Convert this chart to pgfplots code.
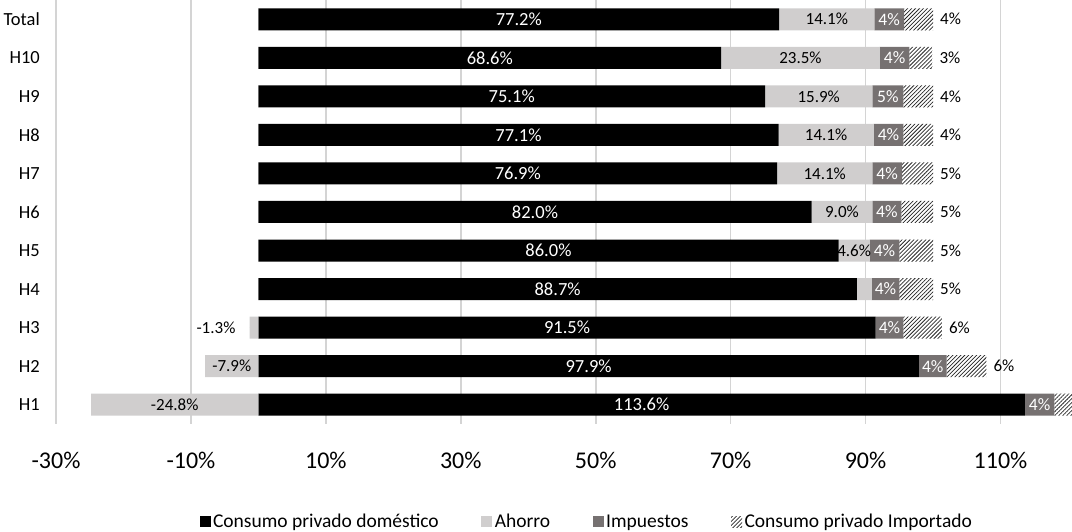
\documentclass[border=0pt]{standalone}
\usepackage{fontspec}
\setmainfont{Carlito}
\usepackage{pgfplots}
\pgfplotsset{compat=1.18}
\usepackage{pgfplotstable}
\usetikzlibrary{patterns.meta}
\definecolor{ahorro}{HTML}{D0CECE}
\definecolor{impuesto}{HTML}{767171}
\definecolor{gridc}{HTML}{D4D4D4}

\pgfplotstableread{
y blk ahp ahn imp imq
0 113.6 0 -24.8 4.4 6.8
1 97.9 0 -7.9 4.1 5.9
2 91.5 0 -1.3 4.1 5.7
3 88.7 2.2 0 4.1 5.0
4 86.0 4.6 0 4.4 5.0
5 82.0 9.0 0 4.3 4.7
6 76.9 14.1 0 4.4 4.6
7 77.1 14.1 0 4.4 4.4
8 75.1 15.9 0 4.6 4.4
9 68.6 23.5 0 4.4 3.4
10 77.2 14.1 0 4.4 4.3
}\data

\pgfplotsset{
  common/.style={width=1016pt,height=424pt,scale only axis,
    xmin=-30,xmax=120.6,ymin=-0.5,ymax=10.5,at={(0pt,0pt)},anchor=south west},
  lbl/.style={only marks, mark=*, mark size=0pt, mark options={draw=none,fill=none},
    point meta=explicit, nodes near coords,
    every node near coord/.append style={anchor=center, inner sep=0pt}},
  fmtA/.style={nodes near coords={\pgfmathprintnumber[fixed,fixed zerofill,precision=1,assume math mode=true]{\pgfplotspointmeta}\%}},
  fmtB/.style={nodes near coords={\pgfmathprintnumber[fixed,precision=0,assume math mode=true]{\pgfplotspointmeta}\%}},
}

\begin{document}
\begin{tikzpicture}
\begin{axis}[common, xbar stacked, bar width=22pt,
  axis line style={draw=none}, tick style={draw=none},
  xtick={-30,-10,...,110},
  xticklabels={-30\%,-10\%,10\%,30\%,50\%,70\%,90\%,110\%},
  xmajorgrids, major grid style={draw=gridc,line width=1.6pt},
  ytick={0,...,10}, yticklabels={H1,H2,H3,H4,H5,H6,H7,H8,H9,H10,Total},
  xticklabel style={font=\fontsize{24}{28}\selectfont, inner sep=0pt, anchor=north, yshift=-27.5pt},
  yticklabel style={font=\fontsize{18.5}{22}\selectfont, inner sep=0pt, anchor=east, xshift=-16pt},
  legend style={draw=none, fill=none, at={(0.5226,-0.231)}, anchor=center,
    font=\fontsize{19.5}{23}\selectfont, inner sep=0pt,
    nodes={inner xsep=2.5pt, inner ysep=0pt},
    /tikz/every even column/.append style={column sep=40pt}},
  legend columns=4, legend cell align=left,
  legend image code/.code={\path[#1] (-3pt,-5.5pt) rectangle (8pt,5.5pt);},
]
\addplot[fill=black, draw=none] table[x=blk,y=y]{\data};
\addlegendentry{Consumo privado doméstico}
\addplot[fill=ahorro, draw=none] table[x=ahp,y=y]{\data};
\addlegendentry{Ahorro}
\addplot[fill=impuesto, draw=none] table[x=imp,y=y]{\data};
\addlegendentry{Impuestos}
\addplot[pattern={Lines[angle=45,distance=2.8pt,line width=0.75pt]}, pattern color=black!85, draw=none] table[x=imq,y=y]{\data};
\addlegendentry{Consumo privado Importado}
\end{axis}

\begin{axis}[common, hide axis]
\addplot[xbar, bar width=22pt, bar shift=0pt, fill=ahorro, draw=none] table[x=ahn,y=y]{\data};
% labels inside black segments
\addplot[lbl, fmtA, every node near coord/.append style={text=white, font=\fontsize{18.5}{22}\selectfont}]
  table[x expr=\thisrow{blk}/2, y=y, meta=blk]{\data};
% positive ahorro labels
\addplot[lbl, fmtA, skip coords between index={0}{4}, every node near coord/.append style={text=black, font=\fontsize{17}{20}\selectfont}]
  table[x expr=\thisrow{blk}+\thisrow{ahp}/2, y=y, meta=ahp]{\data};
% impuestos labels
\addplot[lbl, fmtB, every node near coord/.append style={text=white, font=\fontsize{17.5}{20}\selectfont}]
  table[x expr=\thisrow{blk}+\thisrow{ahp}+\thisrow{imp}/2, y=y, meta=imp]{\data};
% importado labels
\addplot[lbl, fmtB, skip coords between index={0}{1}, every node near coord/.append style={text=black, anchor=west, xshift=7pt, font=\fontsize{17}{20}\selectfont}]
  table[x expr=\thisrow{blk}+\thisrow{ahp}+\thisrow{imp}+\thisrow{imq}, y=y, meta=imq]{\data};
% negative ahorro labels (inside)
\addplot[lbl, fmtA, skip coords between index={2}{11}, every node near coord/.append style={text=black, font=\fontsize{17}{20}\selectfont}]
  table[x expr=\thisrow{ahn}/2, y=y, meta=ahn]{\data};
% negative ahorro label H3 (outside)
\addplot[lbl, fmtA, skip coords between index={0}{2}, skip coords between index={3}{11}, every node near coord/.append style={text=black, anchor=east, xshift=-14pt, font=\fontsize{17}{20}\selectfont}]
  table[x=ahn, y=y, meta=ahn]{\data};
\end{axis}
\pgfresetboundingbox
\path[use as bounding box] (-56pt,-108pt) rectangle (1016pt,424pt);
\end{tikzpicture}
\end{document}
